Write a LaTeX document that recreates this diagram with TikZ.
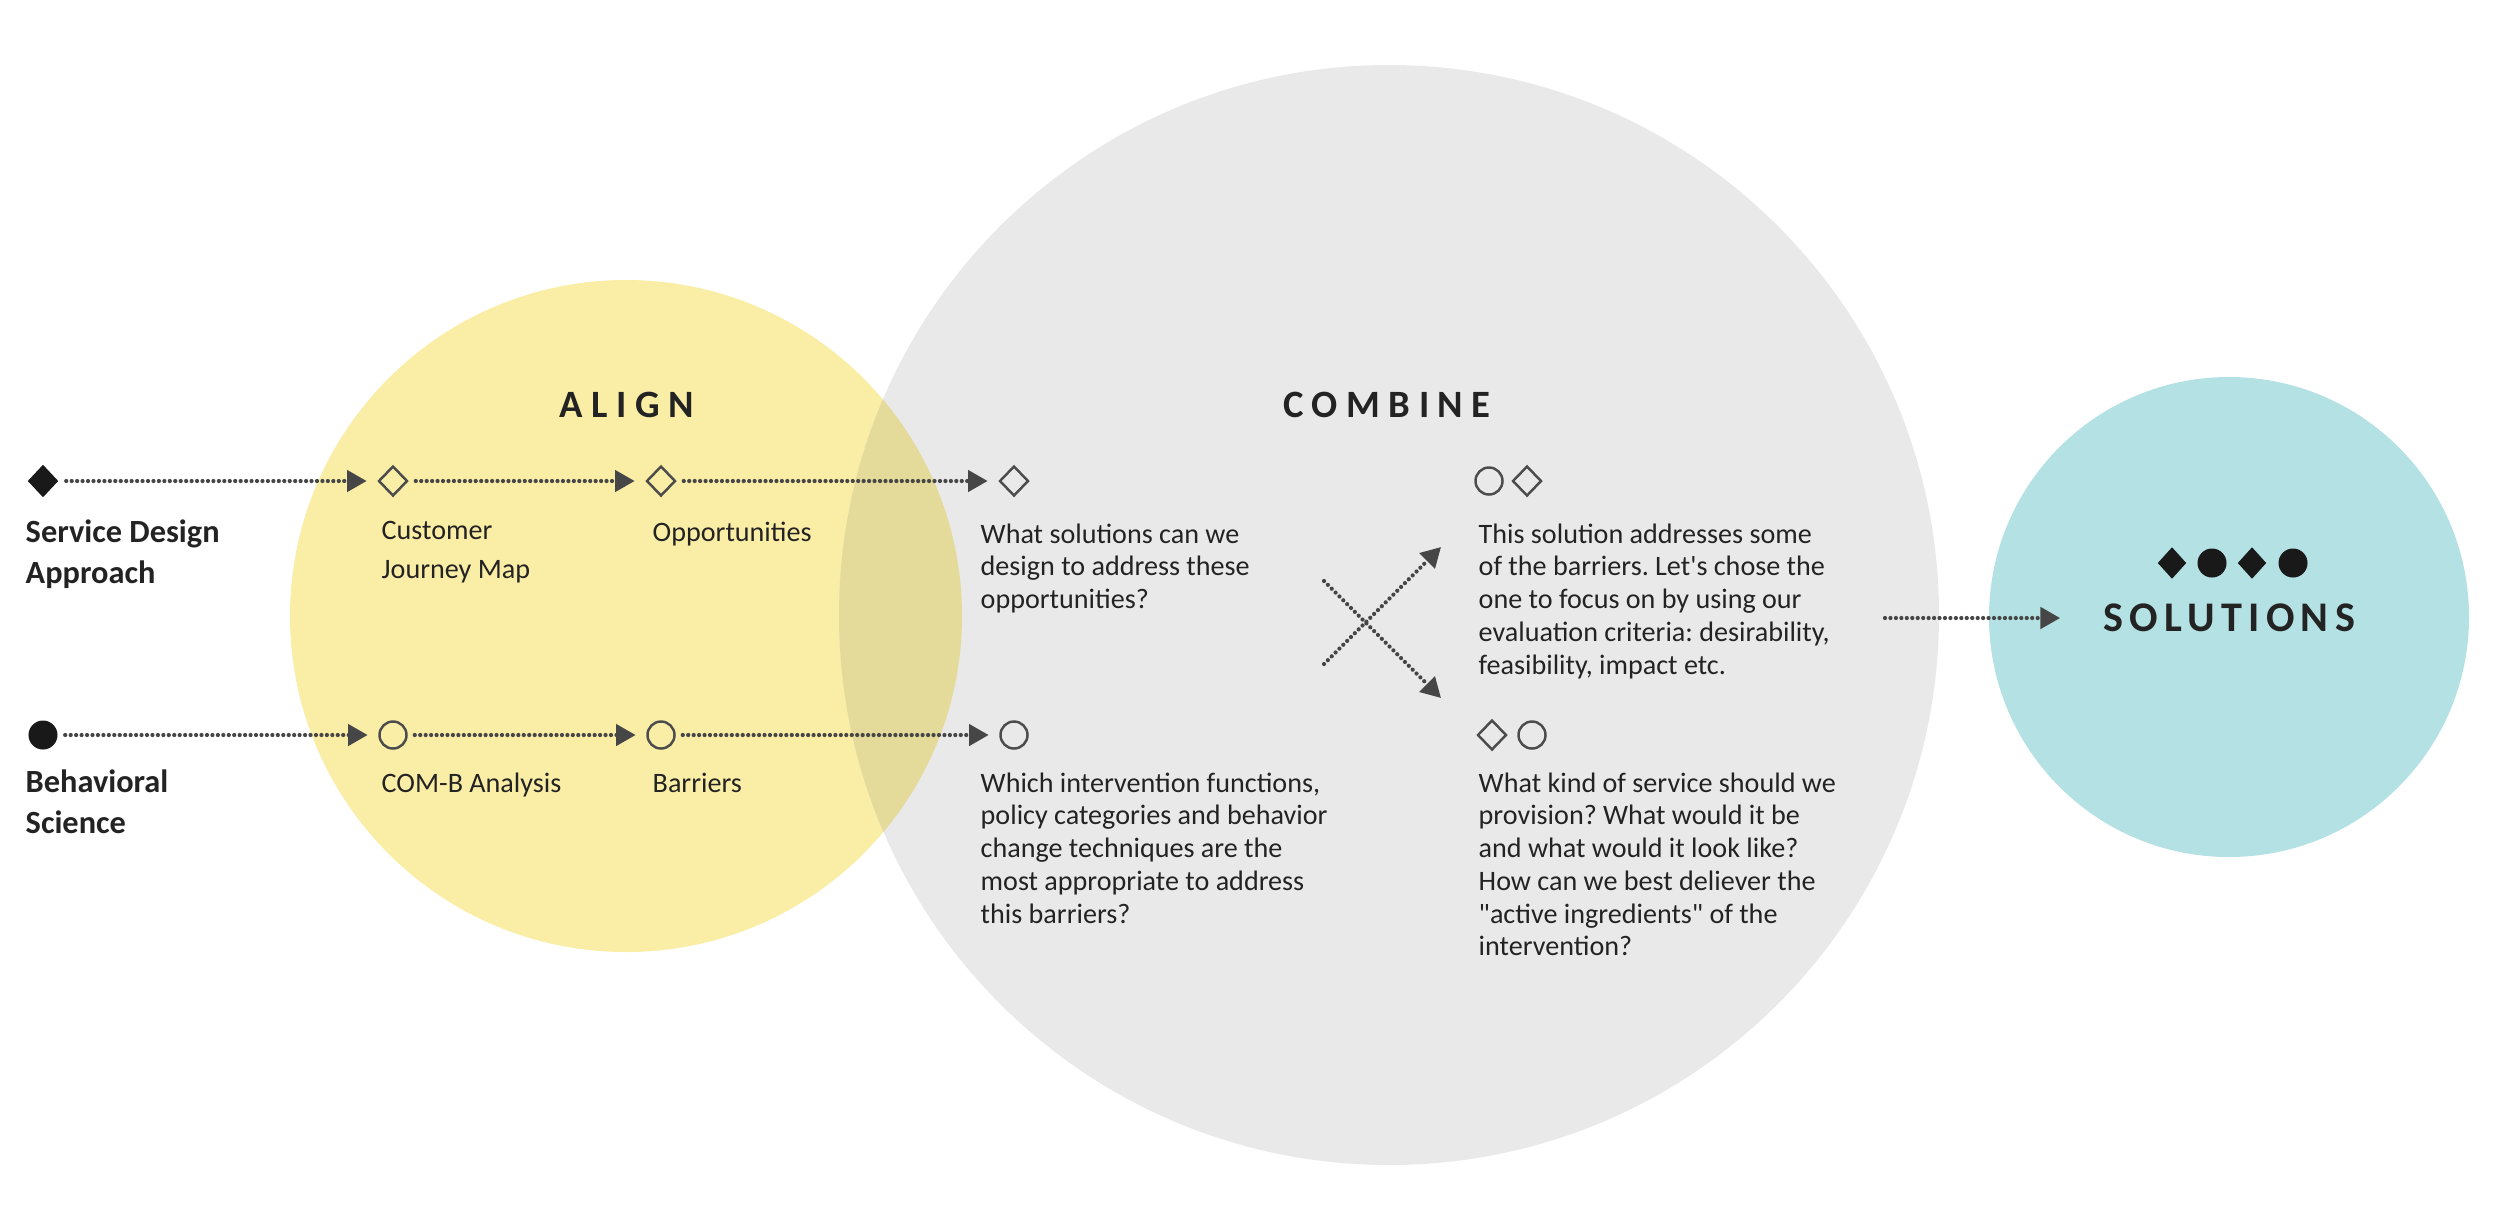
\documentclass[tikz,border=0pt]{standalone}
\usepackage{fontspec}
\setmainfont[Ligatures=TeXOff]{Carlito}
\newfontfamily\headfont[LetterSpace=22]{Carlito}
\newfontfamily\solfont[LetterSpace=15]{Carlito}
\usetikzlibrary{positioning}
\usetikzlibrary{arrows.meta,shapes}
\usetikzlibrary{calc}
\frenchspacing
\definecolor{alignyellow}{RGB}{250,237,166}
\definecolor{combinegray}{RGB}{233,233,233}
\definecolor{overlapyellow}{RGB}{228,218,153}
\definecolor{solteal}{RGB}{180,225,227}
\definecolor{dotgray}{RGB}{70,70,70}
\definecolor{inkgray}{RGB}{35,35,35}
\tikzstyle{fulldiamond}=[diamond,fill=black!90,draw=none,minimum width=0.31cm,minimum height=0.33cm,inner sep=0pt]
\tikzstyle{fullcircle}=[circle,fill=black!90,draw=none,minimum size=0.29cm,inner sep=0pt]
\tikzstyle{opendiamond}=[diamond,draw=black!70,line width=0.7pt,minimum width=0.29cm,minimum height=0.30cm,inner sep=0pt]
\tikzstyle{opencircle}=[circle,draw=black!70,line width=0.7pt,minimum size=0.27cm,inner sep=0pt]
\tikzstyle{dotedge} = [draw=dotgray,line width=1.2pt,line cap=round,dash pattern=on 0pt off 1.55pt,-{Triangle[length=5.6pt,width=6pt]},shorten <=2pt,shorten >=3pt]
\tikzstyle{headtext} = [font=\headfont\bfseries\fontsize{11}{13}\selectfont,text=inkgray,inner sep=0pt]
\tikzstyle{rowtitle} = [font=\bfseries\fontsize{9.2}{11.8}\selectfont,text=inkgray,align=left,anchor=north west,inner sep=0pt]
\tikzstyle{steptext} = [font=\fontsize{8}{11}\selectfont,text=inkgray,align=left,anchor=north west,inner sep=0pt]
\tikzstyle{question} = [font=\fontsize{8}{9.3}\selectfont,text=inkgray,align=left,anchor=north west,inner sep=0pt]

\begin{document}
\begin{tikzpicture}[x=0.01cm,y=-0.01cm]
    \useasboundingbox (0,0) rectangle (2500,1229);

    % circles
    \fill[alignyellow] (626,616) circle[radius=336];
    \fill[combinegray] (1389,615) circle[radius=550];
    \begin{scope}
        \clip (626,616) circle[radius=336];
        \fill[overlapyellow] (1389,615) circle[radius=550];
    \end{scope}
    \fill[solteal] (2229,617) circle[radius=240];

    \node[headtext] (align) at (627,405) {ALIGN};
    \node[headtext] (combine) at (1387,405) {COMBINE};

    \node[fulldiamond] (sd) at (43,481) {};
    \node[fullcircle] (bs) at (43,735) {};

    \foreach \pos/\name in {{(393,481)/cjm}, {(661,481)/opp}, {(1014,481)/design}, {(1527,481)/chooseb}, {(1492,735)/servicea}}
        \node[opendiamond] (\name) at \pos {};

    \foreach \pos/\name in {{(393,735)/comb}, {(661,735)/barrier}, {(1014,735)/interv}, {(1489,481)/choosea}, {(1532,735)/serviceb}}
        \node[opencircle] (\name) at \pos {};

    \foreach \source/\dest in {sd/cjm, cjm/opp, opp/design, bs/comb, comb/barrier, barrier/interv}
        \path[dotedge] (\source) -- (\dest);

    \node[rowtitle] (sdlabel) at (25,519) {Service Design\\Approach};
    \node[rowtitle] (bslabel) at (25,769) {Behavioral\\Science};
    \node[steptext] (cjmlabel) at (381,521) {Customer\\Journey Map};
    \node[steptext] (opplabel) at (652,521) {Opportunities};
    \node[steptext] (comblabel) at (381,772) {COM-B Analysis};
    \node[steptext] (barlabel) at (652,772) {Barriers};

    \node[question] (designq) at (980,523) {What solutions can we\\design to address these\\opportunities?};
    \node[question] (intervq) at (980,772) {Which intervention functions,\\policy categories and behavior\\change techniques are the\\most appropriate to address\\this barriers?};
    \node[question] (chooseq) at (1478,523) {This solution addresses some\\of the barriers. Let's chose the\\one to focus on by using our\\evaluation criteria: desirability,\\feasibility, impact etc.};
    \node[question] (serviceq) at (1478,772) {What kind of service should we\\provision? What would it be\\and what would it look like?\\How can we best deliever the\\"active ingredients" of the\\intervention?};

    % crossing arrows
    \coordinate (crossa) at (1324,664);
    \coordinate (crossb) at (1441,547);
    \coordinate (crossc) at (1324,581);
    \coordinate (crossd) at (1441,698);
    \path[dotedge,shorten <=0pt,shorten >=0pt] (crossa) -- (crossb);
    \path[dotedge,shorten <=0pt,shorten >=0pt] (crossc) -- (crossd);

    % solutions
    \foreach \pos/\name in {{(2172,563)/sola}, {(2252,563)/solc}}
        \node[fulldiamond,minimum width=0.29cm,minimum height=0.32cm] (\name) at \pos {};
    \foreach \pos/\name in {{(2212,563)/solb}, {(2293,563)/sold}}
        \node[fullcircle] (\name) at \pos {};
    \node[font=\solfont\bfseries\fontsize{12}{14}\selectfont,text=inkgray,inner sep=0pt] (solutions) at (2229,618) {SOLUTIONS};
    \coordinate (combineout) at (1885,618);
    \path[dotedge,shorten <=0pt,shorten >=12pt] (combineout) -- (solutions);

\end{tikzpicture}
\end{document}
